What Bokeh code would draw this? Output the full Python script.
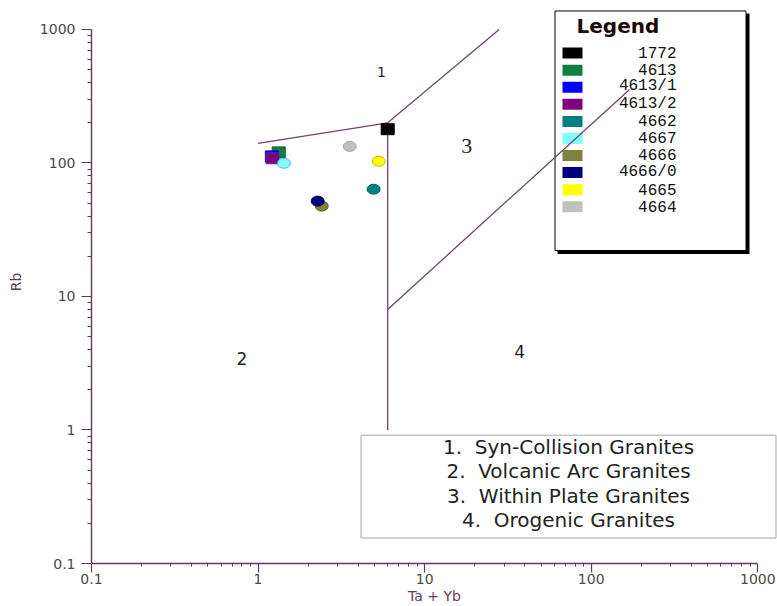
import math
from bokeh.plotting import figure
from bokeh.models import Range1d, FixedTicker, Label, CustomJSTickFormatter
from bokeh.embed import file_html
from bokeh.resources import INLINE

# ---------------- data ----------------
samples = ["1772", "4613", "4613/1", "4613/2", "4662", "4667", "4666", "4666/0", "4665", "4664"]
ta_yb = [6.0, 1.33, 1.21, 1.22, 4.94, 1.43, 2.41, 2.28, 5.3, 3.55]
rb = [179, 120, 112, 108.5, 63.6, 99.5, 47.5, 51.8, 103, 133]
shapes = ["square", "square", "square", "square", "circle", "circle", "circle", "circle", "circle", "circle"]
colors = ["#000000", "#108040", "#0000ff", "#800080", "#008080", "#80ffff", "#808040", "#000080", "#ffff00", "#c0c0c0"]
edges = ["#000000", "#0a5a2a", "#0000c0", "#3030c0", "#006060", "#40c0c0", "#606020", "#000050", "#c0c000", "#a8a8a8"]

# Pearce et al. (1984) discrimination boundaries (Ta+Yb, Rb)
bound_x = [[1, 6], [6, 28], [6, 6]]
bound_y = [[140, 200], [200, 1000], [200, 1]]
wpg_orog_x = [6, 170]
wpg_orog_y = [8, 355]

region_names = ["1", "2", "3", "4"]
region_x = [5.5, 0.8, 17.9, 37.2]
region_y = [477, 3.41, 133, 3.85]

field_names = ["1.\u00a0 Syn-Collision Granites", "2.\u00a0 Volcanic Arc Granites",
               "3.\u00a0 Within Plate Granites", "4.\u00a0 Orogenic Granites"]

ticks = [0.1, 1, 10, 100, 1000]
tick_labels = ["0.1", "1", "10", "100", "1000"]
minor = [m * 10.0 ** k for k in range(-1, 3) for m in range(2, 10)]
axis_min, axis_max = 0.1, 1000

# ---------------- layout (page pixels) ----------------
W, H = 777, 606
BL, BB = 91, 42                 # frame left / bottom border
X_END_PX, Y_END_PX = 757.3, 29  # where 1000 sits on each axis
FRAME_BOTTOM = H - BB
x_dec = (X_END_PX - BL) / 4.0
y_dec = (FRAME_BOTTOM - Y_END_PX) / 4.0
x_top = 10 ** (math.log10(axis_max) + (W - X_END_PX) / x_dec)
y_top = 10 ** (math.log10(axis_max) + Y_END_PX / y_dec)

p = figure(width=W, height=H, x_axis_type="log", y_axis_type="log",
           x_range=Range1d(axis_min, x_top), y_range=Range1d(axis_min, y_top),
           output_backend="svg", toolbar_location=None,
           min_border_left=BL, min_border_right=0, min_border_top=0, min_border_bottom=BB)
p.outline_line_color = None
p.grid.visible = False
p.background_fill_color = "white"
p.border_fill_color = "white"

AX = "#5e3a5e"
fmt = CustomJSTickFormatter(args=dict(tvals=ticks, tlabs=tick_labels), code="""
const i = tvals.findIndex(t => Math.abs(t - tick) < 1e-6 * Math.max(1, Math.abs(t)));
return i >= 0 ? tlabs[i] : String(tick);
""")
for ax in (p.xaxis, p.yaxis):
    ax.ticker = FixedTicker(ticks=ticks, minor_ticks=minor)
    ax.formatter = fmt
    ax.bounds = (axis_min, axis_max)
    ax.axis_line_color = AX
    ax.axis_line_width = 1.4
    ax.major_tick_line_color = AX
    ax.minor_tick_line_color = AX
    ax.major_tick_line_width = 1.2
    ax.major_tick_in = 0
    ax.minor_tick_in = 0
    ax.major_label_text_font = "DejaVu Sans"
    ax.major_label_text_font_size = "14px"
    ax.major_label_text_color = "#4a4a4a"
    ax.axis_label_text_font = "DejaVu Sans"
    ax.axis_label_text_font_size = "14px"
    ax.axis_label_text_font_style = "normal"
    ax.axis_label_text_color = AX
p.xaxis.major_tick_out = 9
p.xaxis.minor_tick_out = 3
p.yaxis.major_tick_out = 10
p.yaxis.minor_tick_out = 4
p.xaxis.major_label_standoff = 1
p.yaxis.major_label_standoff = 6
p.xaxis.axis_label = "Ta + Yb"
p.yaxis.axis_label = "Rb"
p.xaxis.axis_label_standoff = 1
p.yaxis.axis_label_standoff = 13

LINE = "#6e466e"
p.multi_line(bound_x, bound_y, line_color=LINE, line_width=1.3)

# region numbers
region_fonts = ["DejaVu Sans", "DejaVu Sans", "Liberation Serif", "DejaVu Sans"]
region_sizes = ["14px", "17px", "22px", "17px"]
for name, x, y, f, s in zip(region_names, region_x, region_y, region_fonts, region_sizes):
    p.add_layout(Label(x=x, y=y, text=name, text_align="center", text_baseline="middle",
                       text_font=f, text_font_size=s, text_color="#222222"))

# samples
for i in range(len(samples)):
    if shapes[i] == "square":
        p.rect(x=[ta_yb[i]], y=[rb[i]], width=13, height=11, width_units="screen",
               height_units="screen", fill_color=colors[i], line_color=edges[i], line_width=1)
    else:
        p.ellipse(x=[ta_yb[i]], y=[rb[i]], width=13, height=10, width_units="screen",
                  height_units="screen", fill_color=colors[i], line_color=edges[i], line_width=1)


# ---------------- helpers: page pixels -> data / frame-relative screen ----------------
def dx(px):
    return 10 ** (math.log10(axis_min) + (px - BL) / x_dec)


def dy(py):
    return 10 ** (math.log10(axis_min) + (FRAME_BOTTOM - py) / y_dec)


def box(l, t, r, b, fill, line=None, lw=1):
    p.quad(left=[dx(l)], right=[dx(r)], top=[dy(t)], bottom=[dy(b)],
           fill_color=fill, fill_alpha=1, line_color=line, line_width=lw)


def slabel(x, y, text, **kw):
    return Label(x=x - BL, y=FRAME_BOTTOM - y, x_units="screen", y_units="screen", text=text, **kw)


# legend box with shadow
box(557, 13, 749, 254, "black")
box(554.5, 10.5, 745.5, 250.5, "white", "black", 1)
p.add_layout(slabel(576, 26, "Legend", text_font="DejaVu Sans", text_font_style="bold",
                    text_font_size="20px", text_baseline="middle", text_color="#1a0a0a"))
for i, name in enumerate(samples):
    yc = 52.7 + 17.1 * i
    box(562, yc - 5.5, 582, yc + 5.5, colors[i])
    p.add_layout(slabel(676, yc, name, text_font="Liberation Mono", text_font_size="16px",
                        text_align="right", text_baseline="middle", text_color="#111111"))

# field names box
box(360.5, 435.5, 775.5, 538.5, "white", "#a8a8a8", 1)
for i, t in enumerate(field_names):
    p.add_layout(slabel(568, 447 + 24.5 * i, t, text_font="DejaVu Sans", text_font_size="20px",
                        text_align="center", text_baseline="middle", text_color="#222222"))

# WPG / ORG boundary, drawn over the legend box (as in the original)
p.line(wpg_orog_x, wpg_orog_y, line_color=LINE, line_width=1.3, level="overlay")

open("out.html", "w").write(file_html(p, INLINE))
